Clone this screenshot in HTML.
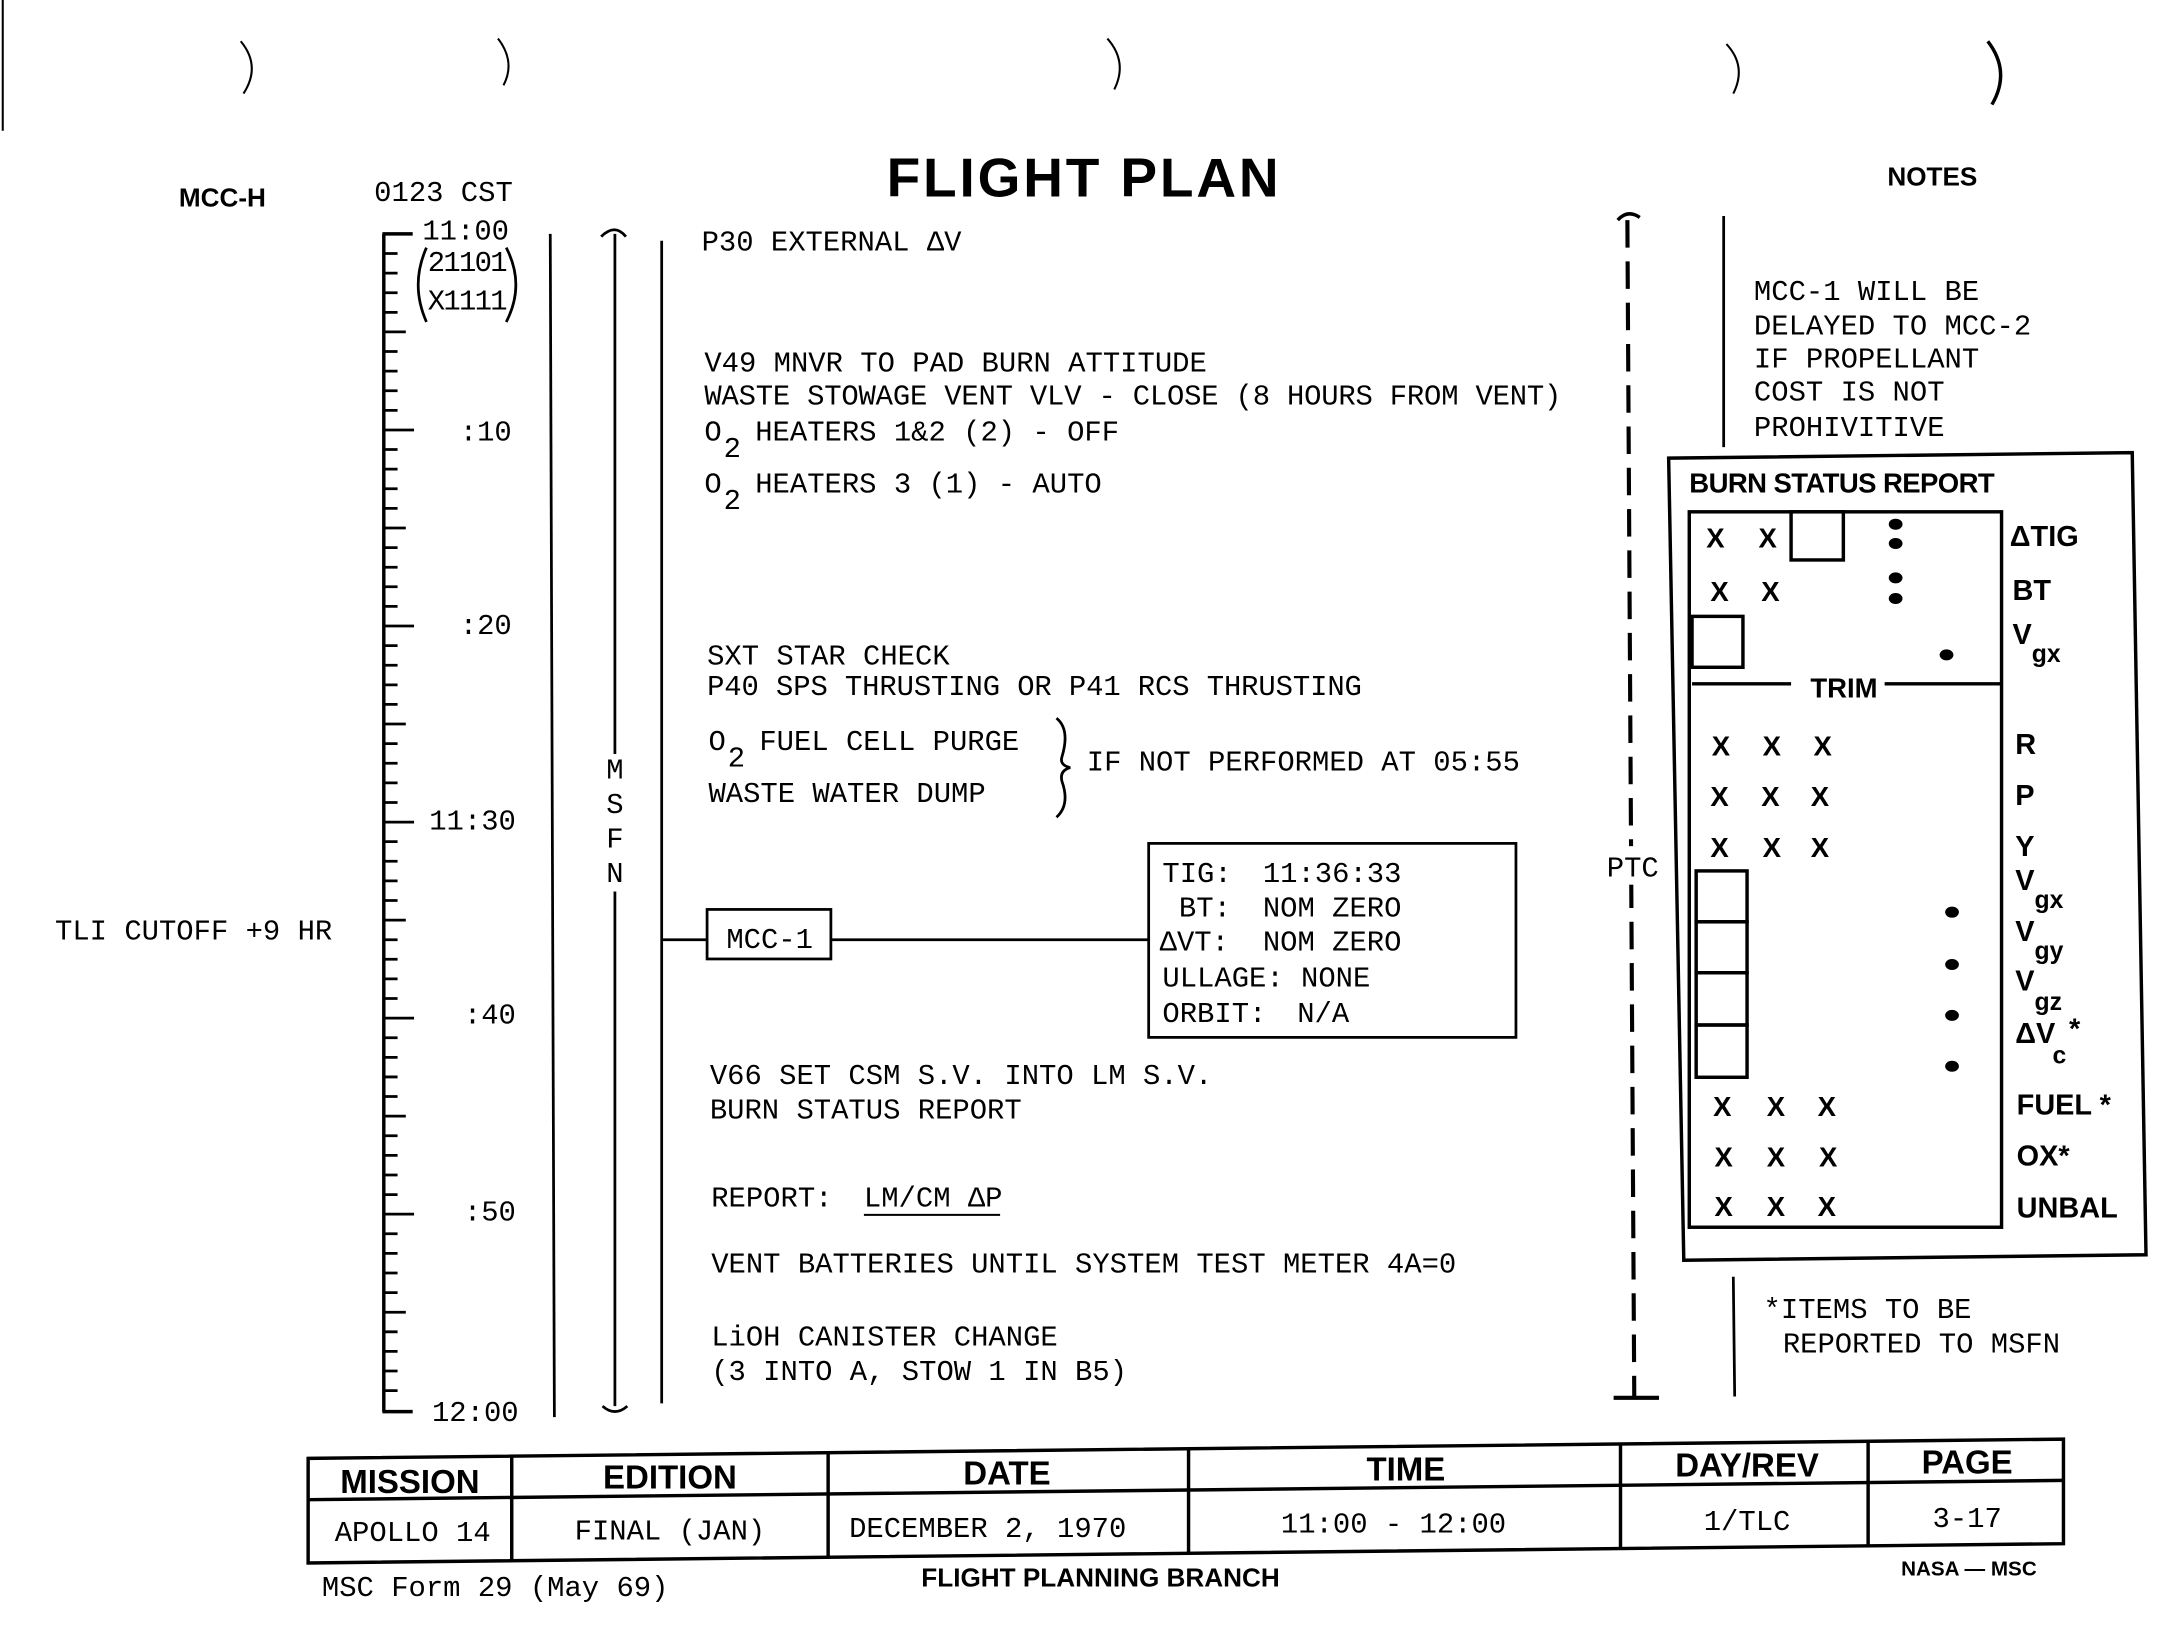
<!DOCTYPE html>
<html><head><meta charset="utf-8"><style>
html,body{margin:0;padding:0;background:#fff;}
svg{display:block;}
.m{font-family:"Liberation Mono",monospace;font-size:21px;fill:#000;}
.b{font-family:"Liberation Sans",sans-serif;font-weight:bold;fill:#000;}
</style></head><body>
<svg width="2157" height="1640" viewBox="0 0 1568 1192" preserveAspectRatio="none" xmlns="http://www.w3.org/2000/svg">
<g fill="none" stroke="#000" stroke-width="1.5">
<line x1="2" y1="0" x2="2" y2="95"/>
<path d="M175 30 Q190 48 177 68"/><path d="M362 28 Q375 45 366 62"/><path d="M805 28 Q820 45 810 65"/>
<path d="M1255 32 Q1270 48 1260 68"/><path d="M1445 30 Q1462 52 1448 76" stroke-width="2.5"/>
</g>
<text class="b" x="130" y="150" font-size="19">MCC-H</text>
<text class="m" x="272" y="146" font-size="21">0123 CST</text>
<text class="b" x="787" y="143" font-size="40" text-anchor="middle" textLength="285">FLIGHT PLAN</text>
<text class="b" x="1372" y="135" font-size="19">NOTES</text>

<g stroke="#000" stroke-width="2.5" fill="none">
<line x1="279" y1="170" x2="279" y2="1026"/>
<line x1="278" y1="170" x2="300" y2="170"/>
<line x1="278" y1="1026" x2="300" y2="1026"/>
<path stroke-width="2" d="M279 184.25h10M279 198.5h10M279 212.75h10M279 227h10M279 241.25h16M279 255.5h10M279 269.75h10M279 284h10M279 298.25h10M279 312.5h22
M279 326.75h10M279 341h10M279 355.25h10M279 369.5h10M279 383.75h16M279 398h10M279 412.25h10M279 426.5h10M279 440.75h10M279 455h22
M279 469.25h10M279 483.5h10M279 497.75h10M279 512h10M279 526.25h16M279 540.5h10M279 554.75h10M279 569h10M279 583.25h10M279 597.5h22
M279 611.75h10M279 626h10M279 640.25h10M279 654.5h10M279 668.75h16M279 683h10M279 697.25h10M279 711.5h10M279 725.75h10M279 740h22
M279 754.25h10M279 768.5h10M279 782.75h10M279 797h10M279 811.25h16M279 825.5h10M279 839.75h10M279 854h10M279 868.25h10M279 882.5h22
M279 896.75h10M279 911h10M279 925.25h10M279 939.5h10M279 953.75h16M279 968h10M279 982.25h10M279 996.5h10M279 1010.75h10"/>
</g>
<text class="m" x="370" y="174" text-anchor="end">11:00</text>
<path d="M310 180 Q298 207 310 234 M368 180 Q382 207 368 234" fill="none" stroke="#000" stroke-width="2"/>
<text class="m" x="311" y="197" textLength="58">21101</text>
<text class="m" x="311" y="225" textLength="58">X1111</text>
<text class="m" x="372" y="320" text-anchor="end">:10</text>
<text class="m" x="372" y="461" text-anchor="end">:20</text>
<text class="m" x="375" y="603" text-anchor="end">11:30</text>
<text class="m" x="375" y="744" text-anchor="end">:40</text>
<text class="m" x="375" y="887" text-anchor="end">:50</text>
<text class="m" x="377" y="1033" text-anchor="end">12:00</text>
<text class="m" x="40" y="683">TLI CUTOFF +9 HR</text>

<g stroke="#000" stroke-width="2" fill="none">
<line x1="400" y1="170" x2="403" y2="1030"/>
<line x1="447" y1="170" x2="447" y2="1022"/>
<path d="M437 172 Q447 162 455 172"/><path d="M438 1022 Q447 1030 456 1022"/>
<line x1="481" y1="175" x2="481" y2="1020"/>
</g>
<rect x="440" y="548" width="14" height="100" fill="#fff"/>
<text class="m" x="447" y="566" text-anchor="middle">M</text>
<text class="m" x="447" y="591" text-anchor="middle">S</text>
<text class="m" x="447" y="616" text-anchor="middle">F</text>
<text class="m" x="447" y="641" text-anchor="middle">N</text>

<text class="m" x="510" y="182">P30 EXTERNAL ΔV</text>
<text class="m" x="512" y="270">V49 MNVR TO PAD BURN ATTITUDE</text>
<text class="m" x="512" y="294" textLength="623">WASTE STOWAGE VENT VLV - CLOSE (8 HOURS FROM VENT)</text>
<text class="m" x="512" y="320">O</text><text class="m" x="526" y="332" font-size="18">2</text><text class="m" x="549" y="320">HEATERS 1&amp;2 (2) - OFF</text>
<text class="m" x="512" y="358">O</text><text class="m" x="526" y="370" font-size="18">2</text><text class="m" x="549" y="358">HEATERS 3 (1) - AUTO</text>
<text class="m" x="514" y="483">SXT STAR CHECK</text>
<text class="m" x="514" y="505" textLength="476">P40 SPS THRUSTING OR P41 RCS THRUSTING</text>
<text class="m" x="515" y="545">O</text><text class="m" x="529" y="557" font-size="18">2</text><text class="m" x="552" y="545">FUEL CELL PURGE</text>
<text class="m" x="515" y="583">WASTE WATER DUMP</text>
<path d="M768 522 Q778 530 772 550 Q770 556 778 558 Q770 560 772 568 Q778 585 768 594" fill="none" stroke="#000" stroke-width="2"/>
<text class="m" x="790" y="560">IF NOT PERFORMED AT 05:55</text>

<g stroke="#000" stroke-width="2" fill="none">
<line x1="481" y1="683" x2="514" y2="683"/>
<rect x="514" y="661" width="90" height="36"/>
<line x1="604" y1="683" x2="836" y2="683"/>
<rect x="835" y="613" width="267" height="141"/>
</g>
<text class="m" x="528" y="689">MCC-1</text>
<text class="m" x="845" y="641">TIG:</text><text class="m" x="918" y="641">11:36:33</text>
<text class="m" x="857" y="666">BT:</text><text class="m" x="918" y="666">NOM ZERO</text>
<text class="m" x="843" y="691">ΔVT:</text><text class="m" x="918" y="691">NOM ZERO</text>
<text class="m" x="845" y="717">ULLAGE: NONE</text>
<text class="m" x="845" y="743">ORBIT:</text><text class="m" x="943" y="743">N/A</text>

<text class="m" x="516" y="788">V66 SET CSM S.V. INTO LM S.V.</text>
<text class="m" x="516" y="813">BURN STATUS REPORT</text>
<text class="m" x="517" y="877">REPORT:</text><text class="m" x="628" y="877">LM/CM ΔP</text>
<line x1="628" y1="883" x2="727" y2="883" stroke="#000" stroke-width="1.5"/>
<text class="m" x="517" y="925">VENT BATTERIES UNTIL SYSTEM TEST METER 4A=0</text>
<text class="m" x="517" y="978">LiOH CANISTER CHANGE</text>
<text class="m" x="517" y="1003">(3 INTO A, STOW 1 IN B5)</text>

<line x1="1183" y1="160" x2="1188" y2="1015" stroke="#000" stroke-width="3" stroke-dasharray="20 10"/>
<path d="M1176 160 Q1183 152 1192 158" fill="none" stroke="#000" stroke-width="2.5"/>
<line x1="1173" y1="1016" x2="1206" y2="1016" stroke="#000" stroke-width="3"/>
<rect x="1168" y="615" width="38" height="28" fill="#fff"/>
<text class="m" x="1168" y="637">PTC</text>

<line x1="1253" y1="157" x2="1253" y2="325" stroke="#000" stroke-width="2"/>
<text class="m" x="1275" y="218">MCC-1 WILL BE</text>
<text class="m" x="1275" y="243">DELAYED TO MCC-2</text>
<text class="m" x="1275" y="267">IF PROPELLANT</text>
<text class="m" x="1275" y="291">COST IS NOT</text>
<text class="m" x="1275" y="317">PROHIVITIVE</text>

<g stroke="#000" stroke-width="2.5" fill="none">
<path d="M1213 333 L1550 329 L1560 912 L1224 916 Z"/>
<rect x="1228" y="372" width="227" height="520"/>
<rect x="1302" y="372" width="38" height="35"/>
<rect x="1230" y="448" width="37" height="37"/>
<line x1="1230" y1="497" x2="1302" y2="497"/><line x1="1370" y1="497" x2="1455" y2="497"/>
<rect x="1233" y="633" width="37" height="37"/><rect x="1233" y="670" width="37" height="37"/>
<rect x="1233" y="707" width="37" height="38"/><rect x="1233" y="745" width="37" height="38"/>
</g>
<text class="b" x="1228" y="358" font-size="20" textLength="222">BURN STATUS REPORT</text>
<text class="b" x="1316" y="507" font-size="20">TRIM</text>
<g fill="#000">
<ellipse cx="1378" cy="381" rx="5" ry="4"/><ellipse cx="1378" cy="395" rx="5" ry="4"/>
<ellipse cx="1378" cy="420" rx="5" ry="4"/><ellipse cx="1378" cy="435" rx="5" ry="4"/>
<ellipse cx="1415" cy="476" rx="5" ry="4"/>
<ellipse cx="1419" cy="663" rx="5" ry="4"/><ellipse cx="1419" cy="701" rx="5" ry="4"/>
<ellipse cx="1419" cy="738" rx="5" ry="4"/><ellipse cx="1419" cy="775" rx="5" ry="4"/>
</g>
<g class="b" font-size="20" text-anchor="middle">
<text x="1247" y="398">X</text><text x="1285" y="398">X</text>
<text x="1250" y="437">X</text><text x="1287" y="437">X</text>
<text x="1251" y="549">X</text><text x="1288" y="549">X</text><text x="1325" y="549">X</text>
<text x="1250" y="586">X</text><text x="1287" y="586">X</text><text x="1323" y="586">X</text>
<text x="1250" y="623">X</text><text x="1288" y="623">X</text><text x="1323" y="623">X</text>
<text x="1252" y="811">X</text><text x="1291" y="811">X</text><text x="1328" y="811">X</text>
<text x="1253" y="848">X</text><text x="1291" y="848">X</text><text x="1329" y="848">X</text>
<text x="1253" y="884">X</text><text x="1291" y="884">X</text><text x="1328" y="884">X</text>
</g>
<g class="b" font-size="21">
<text x="1461" y="397">ΔTIG</text>
<text x="1463" y="436">BT</text>
<text x="1463" y="468">V</text><text x="1477" y="481" font-size="18">gx</text>
<text x="1465" y="548">R</text>
<text x="1465" y="585">P</text>
<text x="1465" y="622">Y</text>
<text x="1465" y="647">V</text><text x="1479" y="660" font-size="18">gx</text>
<text x="1465" y="684">V</text><text x="1479" y="697" font-size="18">gy</text>
<text x="1465" y="720">V</text><text x="1479" y="734" font-size="18">gz</text>
<text x="1465" y="758">ΔV</text><text x="1492" y="773" font-size="18">c</text><text x="1504" y="755">*</text>
<text x="1466" y="810">FUEL *</text>
<text x="1466" y="847">OX*</text>
<text x="1466" y="885">UNBAL</text>
</g>

<line x1="1260" y1="928" x2="1261" y2="1015" stroke="#000" stroke-width="2"/>
<text class="m" x="1282" y="958">*ITEMS TO BE</text>
<text class="m" x="1296" y="983">REPORTED TO MSFN</text>

<g stroke="#000" stroke-width="2.5" fill="none">
<path d="M224 1060 L1500 1046 L1500 1122 L224 1136 Z"/>
<line x1="224" y1="1090" x2="1500" y2="1076"/>
<line x1="372" y1="1059" x2="372" y2="1135"/><line x1="602" y1="1056" x2="602" y2="1132"/>
<line x1="864" y1="1053" x2="864" y2="1129"/><line x1="1178" y1="1050" x2="1178" y2="1126"/>
<line x1="1358" y1="1048" x2="1358" y2="1124"/>
</g>
<g class="b" font-size="24" text-anchor="middle">
<text x="298" y="1085">MISSION</text><text x="487" y="1082">EDITION</text><text x="732" y="1079">DATE</text>
<text x="1022" y="1076">TIME</text><text x="1270" y="1073">DAY/REV</text><text x="1430" y="1071">PAGE</text>
</g>
<g class="m" text-anchor="middle">
<text x="300" y="1120">APOLLO 14</text><text x="487" y="1119">FINAL (JAN)</text><text x="718" y="1117">DECEMBER 2, 1970</text>
<text x="1013" y="1114">11:00 - 12:00</text><text x="1270" y="1112">1/TLC</text><text x="1430" y="1110">3-17</text>
</g>
<text class="m" x="234" y="1160" font-size="15">MSC Form 29 (May 69)</text>
<text class="b" x="800" y="1153" font-size="19" text-anchor="middle">FLIGHT PLANNING BRANCH</text>
<text class="b" x="1382" y="1145" font-size="15">NASA — MSC</text>
</svg>
</body></html>
